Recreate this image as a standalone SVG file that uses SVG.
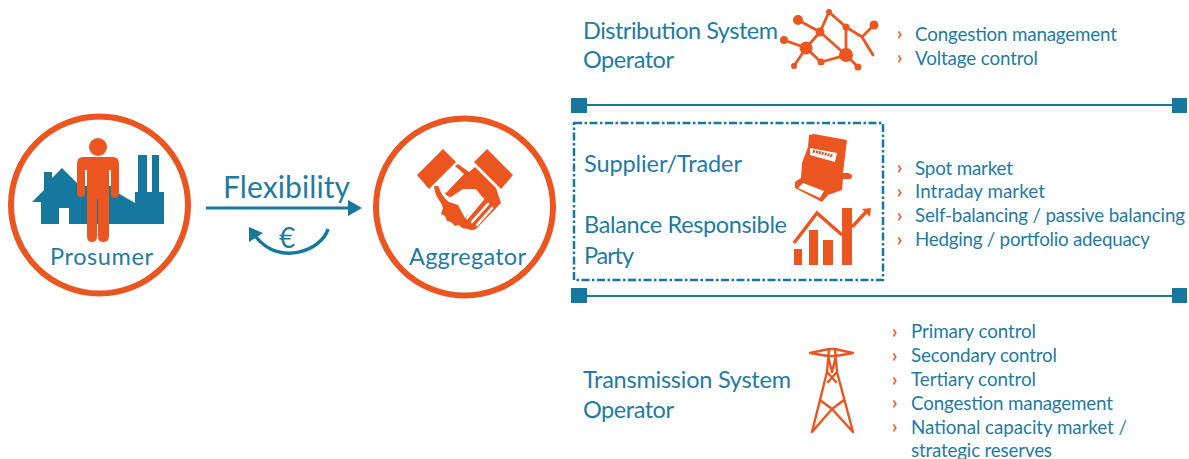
<svg xmlns="http://www.w3.org/2000/svg" width="1189" height="459" viewBox="0 0 1189 459">
<style>
text{font-family:"Lato","Liberation Sans",sans-serif;fill:#1f7ba3}
.h{font-size:23.5px}
.l{font-size:18.8px}
.b{font-size:19px;font-weight:700;fill:#ec5f2a}
.o{fill:#ea5520}
.t{fill:#17789f}
.ring{fill:none;stroke:#ea5520;stroke-width:6}
.w{fill:#fff}
.ol{fill:none;stroke:#ea5520;stroke-linecap:round;stroke-linejoin:round}
</style>
<rect width="1189" height="459" fill="#fff"/>
<g id="prosumer">
<circle class="ring" cx="99.5" cy="205" r="88.5"/>
<path class="t" d="M62 168L80 186H118V193L135 203V192H138V155H147V192H152V155H159V192H164V224H69V208H59V224H41V202H32L44 190V172H52V178Z"/>
<circle class="o" cx="98" cy="147" r="9"/>
<path class="o" d="M83 157H113Q119 157 119 164V193Q119 198 115 198Q111 198 111 193V170H109V236Q109 242 103 242Q98 242 98 236V199H97V236Q97 242 92 242Q87 242 87 236V170H85V193Q85 197 81 197Q77 197 77 193V164Q77 157 83 157Z"/>
<text x="50" y="264.5" font-size="23.5" textLength="103">Prosumer</text>
</g>
<g id="aggregator">
<circle class="ring" cx="464.5" cy="207" r="88.5"/>
<path class="o" d="M443 149L456 162L429 189L417 175ZM487 149L513 175L501 189L474 162Z"/>
<path class="o" d="M455 166L458 164L469 172L475 167L496 188L501 203L476 229Q472 231 468 229L462 228L459 225L455 226L451 222L447 221L445 216L441 214L443 208L441 203Q435 196 434 186L438 186L444 192L446 193L464 174Z"/>
<path class="w" d="M439 187Q441 196 449 202L458 205L465 218L483 198L476 189H463L451 197Q447 197 445 193L442 188Z"/>
<path fill="none" stroke="#fff" stroke-width="2.6" stroke-linecap="round" d="M483 199L467 218M488 204L472 222M492 208L477 225"/>
<text x="409" y="264.5" font-size="23.5" textLength="117">Aggregator</text>
</g>
<g id="connectors">
<path fill="none" stroke="#17789f" stroke-width="3" d="M206 208H350"/>
<path class="t" d="M348 200L362 208L348 216Z"/>
<path fill="none" stroke="#17789f" stroke-width="3.5" d="M328 229C322 250 280 267 256 237"/>
<path class="t" d="M249 227L263 233L249 242Z"/>
<path fill="none" stroke="#17789f" stroke-width="2" d="M579 105H1180M579 296H1180"/>
<path class="t" d="M571 98H587V113H571ZM1172 98H1187V113H1172ZM571 288H587V303H571ZM1172 288H1187V303H1172Z"/>
</g>
<text id="flexibility" x="223" y="197.5" font-size="30" textLength="127">Flexibility</text>
<text id="euro" x="279" y="248" font-size="28">€</text>
<g id="dso">
<text class="h" x="583" y="38.5" textLength="195">Distribution System</text>
<text class="h" x="583" y="67.5" textLength="91">Operator</text>
<path fill="none" stroke="#ea5520" stroke-width="2.8" stroke-linecap="round" d="M798 20L820 32L829 12L846 27L862 37L874 25M862 37L873 55M846 27V55M820 32L846 55L821 62L806 48L820 32M784 40L806 48L794 66M846 55L858 67"/>
<g class="o"><circle cx="798" cy="20" r="5"/><circle cx="820" cy="32" r="4.5"/><circle cx="829" cy="12" r="3"/><circle cx="846" cy="27" r="3.5"/><circle cx="874" cy="25" r="4.5"/><circle cx="784" cy="40" r="4"/><circle cx="806" cy="48" r="6.5"/><circle cx="794" cy="66" r="3"/><circle cx="821" cy="62" r="3.5"/><circle cx="846" cy="55" r="7"/><circle cx="858" cy="67" r="3.5"/></g>
<text class="b" x="897" y="40">›</text><text class="b" x="897" y="64">›</text>
<text class="l" x="915" y="40.5" textLength="202">Congestion management</text>
<text class="l" x="915" y="64.5" textLength="123">Voltage control</text>
</g>
<g id="brp">
<rect x="574" y="123" width="309" height="157" fill="none" stroke="#17789f" stroke-width="2.5" stroke-dasharray="8 2.5 2.5 2.5"/>
<text class="h" x="584" y="171.5" textLength="158">Supplier/Trader</text>
<text class="h" x="584" y="232.5" textLength="203">Balance Responsible</text>
<text class="h" x="584" y="263.5" textLength="50">Party</text>
<path class="o" d="M809 135L814 134L847 140L843 173H848Q853 174 852 177Q851 180 847 179H843L842 190L828 195L822 202L795 188V182L801 178L802 163L808 147Z"/>
<path class="w" d="M803 183L824 191L820 198L798 188ZM810 148L837 153L835 162L810 155Z"/>
<path fill="none" stroke="#ea5520" stroke-width="3" stroke-dasharray="2 1" d="M813 151L833 156"/>
<path class="o" d="M794 249H802V265H794ZM809 230H818V265H809ZM823 240H833V265H823ZM842 208H852V265H842Z"/>
<path fill="none" stroke="#ea5520" stroke-width="3.4" d="M794 243L817 213L842 235M852 227L866 212"/>
<path class="o" d="M862 209L871 208L870 217Z"/>
<text class="b" x="897" y="174">›</text><text class="b" x="897" y="198">›</text><text class="b" x="897" y="222">›</text><text class="b" x="897" y="246">›</text>
<text class="l" x="915" y="174.5" textLength="98">Spot market</text>
<text class="l" x="915" y="197.5" textLength="130">Intraday market</text>
<text class="l" x="915" y="221.5" textLength="270">Self-balancing / passive balancing</text>
<text class="l" x="915" y="245.5" textLength="235">Hedging / portfolio adequacy</text>
</g>
<g id="tso">
<text class="h" x="583" y="387.5" textLength="208">Transmission System</text>
<text class="h" x="583" y="417.5" textLength="91">Operator</text>
<path class="ol" stroke-width="2.4" d="M810 353L829 349H835L853 353L836 356H828ZM829 349L827 372L812 432M835 349L837 372L853 432M828 356L832 372L836 356M827 372L836 382M837 372L828 382M820 400L832 409L844 400M812 432L832 409L853 432"/>
<text class="b" x="892" y="338">›</text><text class="b" x="892" y="362">›</text><text class="b" x="892" y="386">›</text><text class="b" x="892" y="409">›</text><text class="b" x="892" y="433">›</text>
<text class="l" x="911" y="337.5" textLength="125">Primary control</text>
<text class="l" x="911" y="361.5" textLength="146">Secondary control</text>
<text class="l" x="911" y="385.5" textLength="125">Tertiary control</text>
<text class="l" x="911" y="409.5" textLength="202">Congestion management</text>
<text class="l" x="911" y="433.5" textLength="216">National capacity market /</text>
<text class="l" x="911" y="456.5" textLength="141">strategic reserves</text>
</g>
</svg>
